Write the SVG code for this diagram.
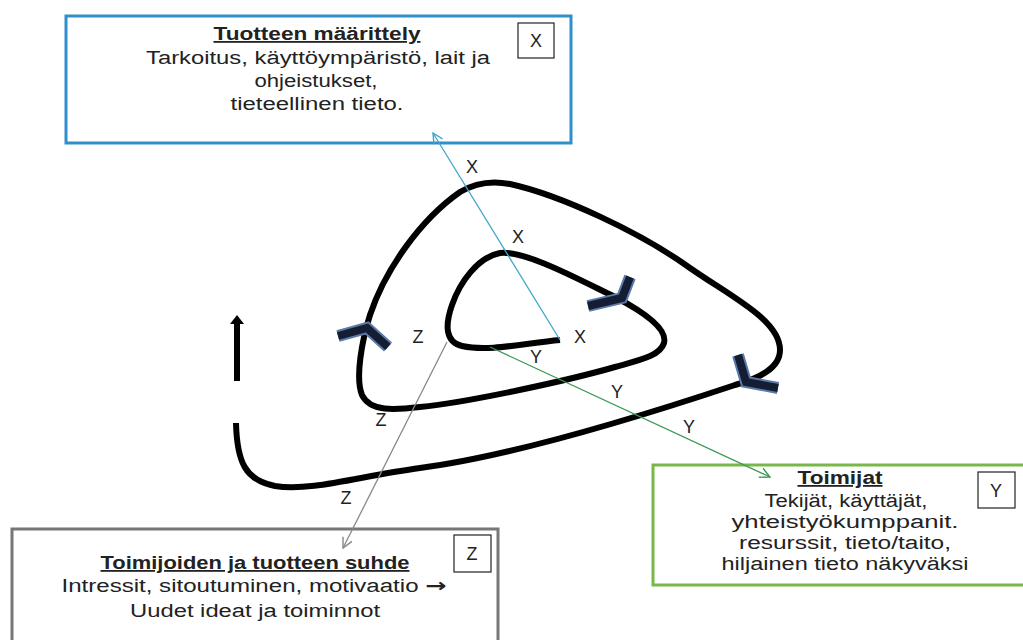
<svg xmlns="http://www.w3.org/2000/svg" width="1023" height="640" viewBox="0 0 1023 640">
<style>
.box{fill:#fff;stroke-width:3}
.tag{fill:#fff;stroke:#222;stroke-width:1.2}
.t{font-family:"Liberation Sans",Arial,sans-serif;font-size:18px;fill:#222;text-anchor:middle}
.h{font-weight:bold;text-decoration:underline}
.lbl{font-family:"Liberation Sans",Arial,sans-serif;font-size:18px;fill:#222;text-anchor:middle}
.spiral{fill:none;stroke:#000;stroke-width:6;stroke-linecap:butt;stroke-linejoin:round}
.chev1{fill:none;stroke:#5b7aa8;stroke-width:12;stroke-linejoin:miter}
.chev2{fill:none;stroke:#151d33;stroke-width:8;stroke-linejoin:miter}
.con{fill:none;stroke-width:1.3}
.arr{font-family:"DejaVu Sans",sans-serif;font-weight:bold;font-size:19px}
</style>
<defs>
<marker id="ab" markerWidth="12" markerHeight="12" refX="11" refY="6" orient="auto" markerUnits="userSpaceOnUse"><path d="M1,1 L11,6 L1,11" fill="none" stroke="#3fa6c9" stroke-width="1.4"/></marker>
<marker id="ag" markerWidth="12" markerHeight="12" refX="11" refY="6" orient="auto" markerUnits="userSpaceOnUse"><path d="M1,1 L11,6 L1,11" fill="none" stroke="#3d9a55" stroke-width="1.4"/></marker>
<marker id="ay" markerWidth="12" markerHeight="12" refX="11" refY="6" orient="auto" markerUnits="userSpaceOnUse"><path d="M1,1 L11,6 L1,11" fill="none" stroke="#888" stroke-width="1.4"/></marker>
</defs>
<rect width="1023" height="640" fill="#fff"/>

<g id="node-maarittely">
<rect class="box" x="66" y="16" width="505" height="127" stroke="#2f8fca"/>
<text class="t h" x="317" y="40" textLength="207" lengthAdjust="spacingAndGlyphs">Tuotteen määrittely</text>
<text class="t" x="318" y="64" textLength="344" lengthAdjust="spacingAndGlyphs">Tarkoitus, käyttöympäristö, lait  ja</text>
<text class="t" x="316" y="87" textLength="123" lengthAdjust="spacingAndGlyphs">ohjeistukset,</text>
<text class="t" x="317" y="110" textLength="173" lengthAdjust="spacingAndGlyphs">tieteellinen tieto.</text>
<rect class="tag" x="518" y="23" width="36" height="35"/>
<text class="t" x="536" y="47" font-size="20">X</text>
</g>

<g id="node-toimijat">
<rect class="box" x="653" y="465" width="400" height="120" stroke="#78b84a"/>
<text class="t h" x="840" y="484" textLength="85" lengthAdjust="spacingAndGlyphs">Toimijat</text>
<text class="t" x="846" y="507" textLength="163" lengthAdjust="spacingAndGlyphs">Tekijät, käyttäjät,</text>
<text class="t" x="845" y="528" textLength="227" lengthAdjust="spacingAndGlyphs">yhteistyökumppanit.</text>
<text class="t" x="845" y="549" textLength="212" lengthAdjust="spacingAndGlyphs">resurssit, tieto/taito,</text>
<text class="t" x="845" y="570" textLength="247" lengthAdjust="spacingAndGlyphs">hiljainen tieto näkyväksi</text>
<rect class="tag" x="978" y="472" width="37" height="36"/>
<text class="t" x="996" y="497" font-size="20">Y</text>
</g>

<g id="node-suhde">
<rect class="box" x="12" y="529" width="486" height="140" stroke="#777"/>
<text class="t h" x="255" y="569" textLength="309" lengthAdjust="spacingAndGlyphs">Toimijoiden ja tuotteen suhde</text>
<text class="t" x="254" y="592" textLength="385" lengthAdjust="spacingAndGlyphs">Intressit, sitoutuminen, motivaatio <tspan class="arr">→</tspan></text>
<text class="t" x="255" y="617" textLength="250" lengthAdjust="spacingAndGlyphs">Uudet ideat ja toiminnot</text>
<rect class="tag" x="454" y="535" width="37" height="37"/>
<text class="t" x="472" y="560" font-size="20">Z</text>
</g>

<g id="spiral">
<path class="spiral" d="M560,340 C525,343 490,352 462,346 C445,342 445,325 452,305 C460,282 478,257 500,253 C525,250 580,280 615,297 C640,310 668,328 664,343 C660,356 640,360 615,367 C570,380 470,402 420,407 C395,410 370,412 362,395 C355,378 362,340 370,315 C385,270 420,220 460,192 C475,183 490,180 510,184 C560,195 640,232 690,268 C730,296 780,320 780,350 C780,368 760,378 735,385 C660,410 520,455 420,468 C360,476 310,492 275,486 C245,480 237,462 236,423"/>
<polyline class="chev1" points="338,336 367,328 388,347"/>
<polyline class="chev2" points="338,336 367,328 388,347"/>
<polyline class="chev1" points="588,306 622,298 630,277"/>
<polyline class="chev2" points="588,306 622,298 630,277"/>
<polyline class="chev1" points="738,355 746,382 778,388"/>
<polyline class="chev2" points="738,355 746,382 778,388"/>
<line x1="237" y1="381" x2="237" y2="322" stroke="#000" stroke-width="6"/>
<polygon points="237,315 230,324 244,324" fill="#000"/>
</g>

<g id="connectors">
<line class="con" x1="560" y1="340" x2="433" y2="133" stroke="#3fa6c9" marker-end="url(#ab)"/>
<line class="con" x1="490" y1="347" x2="770" y2="477" stroke="#3d9a55" marker-end="url(#ag)"/>
<line class="con" x1="447" y1="342" x2="343" y2="548" stroke="#888" marker-end="url(#ay)"/>
<text class="lbl" x="472" y="173">X</text>
<text class="lbl" x="518" y="243">X</text>
<text class="lbl" x="580" y="343">X</text>
<text class="lbl" x="536" y="363">Y</text>
<text class="lbl" x="617" y="398">Y</text>
<text class="lbl" x="689" y="433">Y</text>
<text class="lbl" x="418" y="343">Z</text>
<text class="lbl" x="381" y="426">Z</text>
<text class="lbl" x="346" y="504">Z</text>
</g>
</svg>
